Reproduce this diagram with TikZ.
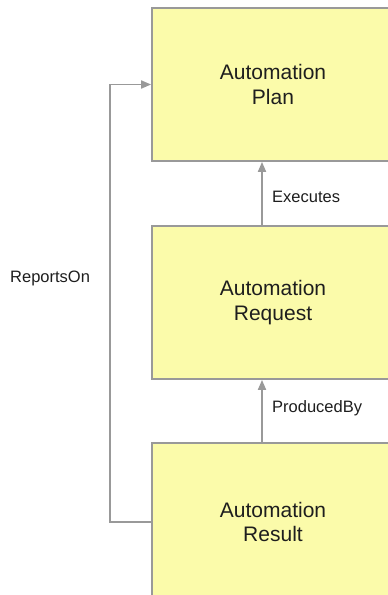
\documentclass[tikz,border=0pt]{standalone}
\usepackage{fontspec}
\setmainfont{Liberation Sans}
\usetikzlibrary{arrows.meta}
\definecolor{boxfill}{HTML}{FBFBAA}
\definecolor{edgegray}{HTML}{999999}
\definecolor{txt}{HTML}{1E1E1E}
\tikzset{
  entity/.style={draw=edgegray, line width=1.8pt, fill=boxfill, minimum width=242pt,
    minimum height=153pt, inner sep=0pt, align=center, text=txt,
    font=\fontsize{21}{24.5}\selectfont},
  arr/.style={draw=edgegray, line width=1.8pt, -{Triangle[length=10pt,width=8pt]}},
  lbl/.style={text=txt, font=\fontsize{16.5}{19}\selectfont, inner sep=0pt}
}
\begin{document}
\begin{tikzpicture}[x=1pt,y=1pt]
\useasboundingbox (0,0) rectangle (388,-595);
\clip (0,0) rectangle (388,-595);
\fill[white] (0,0) rectangle (388,-595);
\node[entity] (plan) at (273,-84.5) {Automation\\Plan};
\node[entity] (req) at (273,-302.5) {Automation\\Request};
\node[entity, minimum height=158pt] (res) at (273,-522) {Automation\\Result};
\coordinate (ex) at (262,0);
\coordinate (lx) at (110,-300);
\draw[arr] (req.north -| ex) -- (plan.south -| ex);
\draw[arr] (res.north -| ex) -- (req.south -| ex);
\draw[arr] (res.west) -| (lx) |- (plan.west);
\node[lbl, anchor=west] (lexec) at (272,-197) {Executes};
\node[lbl, anchor=west] (lprod) at (272,-408) {ProducedBy};
\node[lbl, anchor=west] (lrep) at (10,-278) {ReportsOn};
\end{tikzpicture}
\end{document}
